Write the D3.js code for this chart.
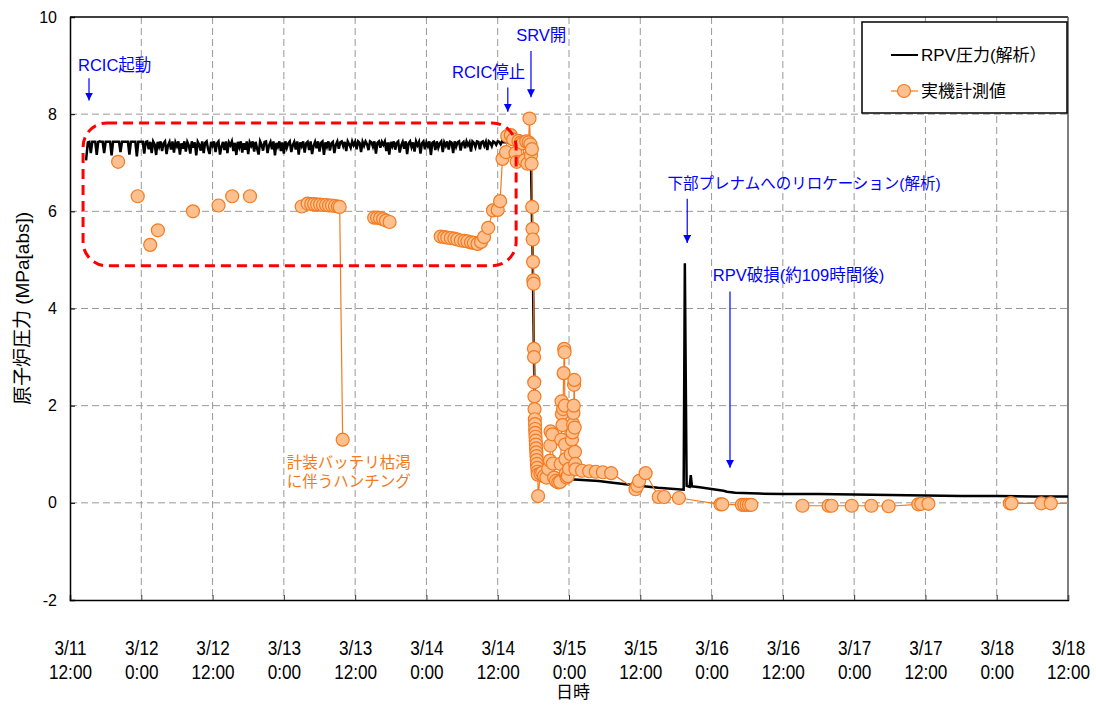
<!DOCTYPE html>
<html>
<head>
<meta charset="utf-8">
<script src="https://cdn.jsdelivr.net/npm/d3@7"></script>
<style>
body { margin: 0; background: #fff; }
svg { font-family: "Liberation Sans", Arial, "Noto Sans CJK JP", sans-serif; }
</style>
</head>
<body>
<svg id="chart" width="1096" height="707"></svg>
<script>
// time axis = hours since 3/11 12:00
var tickHour  = [0, 12, 24, 36, 48, 60, 72, 84, 96, 108, 120, 132, 144, 156, 168];
var tickDay   = ["3/11","3/12","3/12","3/13","3/13","3/14","3/14","3/15","3/15","3/16","3/16","3/17","3/17","3/18","3/18"];
var tickClock = ["12:00","0:00","12:00","0:00","12:00","0:00","12:00","0:00","12:00","0:00","12:00","0:00","12:00","0:00","12:00"];
var yTicks    = [-2, 0, 2, 4, 6, 8, 10];

// RPV pressure (analysis)
var calcHour = [2.7,
  3,3.25,3.5,3.75,4,4.25,4.5,4.75,5,5.25,5.5,5.75,6,6.25,6.5,6.75,7,7.25,7.5,7.75,
  8,8.25,8.5,8.75,9,9.25,9.5,9.75,10,10.25,10.5,10.75,11,11.25,11.5,11.75,12,12.25,12.5,12.75,
  13,13.25,13.5,13.75,14,14.25,14.5,14.75,15,15.25,15.5,15.75,16,16.25,16.5,16.75,17,17.25,17.5,17.75,
  18,18.25,18.5,18.75,19,19.25,19.5,19.75,20,20.25,20.5,20.75,21,21.25,21.5,21.75,22,22.25,22.5,22.75,
  23,23.25,23.5,23.75,24,24.25,24.5,24.75,25,25.25,25.5,25.75,26,26.25,26.5,26.75,27,27.25,27.5,27.75,
  28,28.25,28.5,28.75,29,29.25,29.5,29.75,30,30.25,30.5,30.75,31,31.25,31.5,31.75,32,32.25,32.5,32.75,
  33,33.25,33.5,33.75,34,34.25,34.5,34.75,35,35.25,35.5,35.75,36,36.25,36.5,36.75,37,37.25,37.5,37.75,
  38,38.25,38.5,38.75,39,39.25,39.5,39.75,40,40.25,40.5,40.75,41,41.25,41.5,41.75,42,42.25,42.5,42.75,
  43,43.25,43.5,43.75,44,44.25,44.5,44.75,45,45.25,45.5,45.75,46,46.25,46.5,46.75,47,47.25,47.5,47.75,
  48,48.25,48.5,48.75,49,49.25,49.5,49.75,50,50.25,50.5,50.75,51,51.25,51.5,51.75,52,52.25,52.5,52.75,
  53,53.25,53.5,53.75,54,54.25,54.5,54.75,55,55.25,55.5,55.75,56,56.25,56.5,56.75,57,57.25,57.5,57.75,
  58,58.25,58.5,58.75,59,59.25,59.5,59.75,60,60.25,60.5,60.75,61,61.25,61.5,61.75,62,62.25,62.5,62.75,
  63,63.25,63.5,63.75,64,64.25,64.5,64.75,65,65.25,65.5,65.75,66,66.25,66.5,66.75,67,67.25,67.5,67.75,
  68,68.25,68.5,68.75,69,69.25,69.5,69.75,70,70.25,70.5,70.75,71,71.25,71.5,71.75,72,72.25,72.5,72.75,
  73,73.5,74.5,75.5,76.5,77.2,77.6,77.9,78.1,78.3,78.6,79,80,83.5,89,91,95,99,103.3,
  103.5,103.8,104.3,104.5,104.7,106,110,110.6,112,116,120,126,132,138,144,150,156,162,168];
var calcP = [7.05,
  7.42,7.43,7.20,7.43,7.43,7.43,7.16,7.43,7.44,7.43,7.43,7.20,7.43,7.43,7.43,7.43,7.15,7.43,7.43,7.43,
  7.43,7.43,7.22,7.43,7.43,7.43,7.43,7.43,7.17,7.43,7.43,7.43,7.43,7.13,7.43,7.43,7.43,7.43,7.19,7.43,
  7.44,7.28,7.43,7.20,7.44,7.38,7.16,7.43,7.33,7.44,7.24,7.40,7.44,7.18,7.36,7.43,7.27,7.44,7.21,7.42,
  7.34,7.44,7.17,7.40,7.29,7.44,7.23,7.43,7.36,7.19,7.44,7.31,7.42,7.15,7.43,7.37,7.25,7.44,7.20,7.41,
  7.44,7.28,7.18,7.43,7.35,7.44,7.22,7.40,7.44,7.17,7.33,7.43,7.26,7.44,7.20,7.42,7.36,7.44,7.24,7.41,
  7.16,7.43,7.32,7.44,7.21,7.40,7.27,7.44,7.18,7.42,7.35,7.44,7.23,7.43,7.29,7.17,7.44,7.37,7.25,7.43,
  7.44,7.20,7.36,7.43,7.28,7.44,7.15,7.41,7.33,7.44,7.24,7.42,7.19,7.44,7.31,7.40,7.44,7.22,7.36,7.43,
  7.27,7.44,7.17,7.42,7.34,7.44,7.21,7.40,7.43,7.26,7.44,7.18,7.35,7.43,7.30,7.44,7.23,7.41,7.44,7.16,
  7.42,7.33,7.44,7.25,7.40,7.43,7.20,7.37,7.44,7.29,7.42,7.44,7.34,7.43,7.24,7.44,7.38,7.31,7.44,7.36,
  7.43,7.28,7.44,7.41,7.22,7.43,7.35,7.44,7.38,7.26,7.44,7.42,7.33,7.44,7.19,7.41,7.44,7.31,7.43,7.37,
  7.44,7.24,7.42,7.17,7.43,7.34,7.44,7.27,7.41,7.44,7.21,7.36,7.43,7.29,7.44,7.18,7.40,7.44,7.32,7.42,
  7.23,7.44,7.36,7.43,7.19,7.40,7.44,7.28,7.42,7.34,7.44,7.16,7.41,7.43,7.26,7.44,7.31,7.40,7.44,7.22,
  7.42,7.35,7.44,7.27,7.43,7.41,7.20,7.44,7.33,7.42,7.44,7.25,7.40,7.43,7.30,7.44,7.36,7.42,7.23,7.44,
  7.41,7.32,7.44,7.43,7.28,7.42,7.44,7.35,7.43,7.26,7.44,7.41,7.34,7.44,7.42,7.37,7.44,7.43,7.38,7.44,
  7.42,7.42,7.40,7.41,7.40,7.38,7.00,5.00,3.00,1.50,0.90,0.62,0.53,0.49,0.45,0.42,0.36,0.31,0.27,
  4.93,0.35,0.33,0.57,0.34,0.32,0.25,0.23,0.21,0.19,0.18,0.18,0.17,0.16,0.15,0.14,0.14,0.13,0.13];

// measured values (null = gap in the line)
var measHour = [8.1,null,11.4,null,13.5,null,14.8,null,20.7,null,25.0,null,27.3,null,30.3,null,
  39.0,40.0,40.6,41.1,41.6,42.1,42.6,43.1,43.6,44.1,44.6,45.1,45.4,45.9,null,
  51.2,51.7,52.2,52.7,53.2,53.8,null,
  62.4,63.0,63.5,64.1,64.7,65.2,65.8,66.4,66.9,67.5,68.0,68.6,69.2,69.7,70.4,71.2,72.0,72.4,72.8,
  73.4,73.6,74.2,74.6,75.0,75.2,75.5,75.9,76.2,76.5,76.8,77.0,77.2,77.35,77.5,77.6,77.7,77.75,
  77.8,77.85,77.9,77.95,78.0,78.05,78.1,78.12,78.15,78.18,78.2,78.25,78.28,78.3,78.33,78.36,78.4,
  78.43,78.46,78.5,78.53,78.56,78.6,78.65,78.7,78.75,78.8,79.2,79.5,79.8,80.2,80.5,80.8,80.85,80.9,
  81.2,81.3,81.5,81.8,82.2,82.5,82.6,82.7,82.75,82.8,82.9,83.0,83.1,83.2,83.25,83.3,83.35,83.4,83.45,
  83.6,83.8,84.0,84.3,84.5,84.6,84.7,84.75,84.8,84.85,84.9,84.95,85.0,85.05,85.1,86.2,87.4,88.5,89.7,
  91.1,95.2,95.5,95.8,96.9,99.1,100.0,102.5,109.5,109.8,113.1,113.5,113.9,114.3,114.7,null,
  123.3,127.7,128.2,131.6,134.9,137.8,142.8,143.3,144.5,null,
  158.2,158.5,163.5,165.1,170];
var measP = [7.02,null,6.31,null,5.31,null,5.61,null,6.00,null,6.12,null,6.31,null,6.31,null,
  6.10,6.16,6.15,6.15,6.14,6.14,6.13,6.13,6.12,6.12,6.11,6.10,6.09,1.30,null,
  5.87,5.87,5.86,5.84,5.81,5.78,null,
  5.48,5.47,5.46,5.45,5.44,5.42,5.40,5.39,5.38,5.36,5.35,5.33,5.37,5.47,5.66,6.02,6.03,6.21,7.08,
  7.22,7.55,7.57,7.48,7.20,7.02,7.45,7.42,7.40,7.05,7.44,6.98,7.42,7.91,7.38,7.15,6.98,7.28,
  6.09,5.64,5.42,4.96,4.58,4.51,3.17,3.00,2.48,2.19,1.93,1.72,1.62,1.52,1.44,1.36,1.28,
  1.20,1.12,1.04,0.96,0.88,0.80,0.72,0.64,0.58,0.14,0.60,0.62,0.55,0.52,0.70,0.87,1.18,1.47,
  1.41,0.81,0.52,0.45,0.42,0.43,0.80,1.30,2.09,1.83,1.60,1.93,2.67,3.17,3.10,2.00,1.20,0.90,0.60,
  0.52,0.55,0.70,1.00,1.30,1.45,1.62,1.85,2.00,2.43,2.53,1.55,1.05,0.80,0.69,0.66,0.65,0.64,0.63,
  0.61,0.28,0.35,0.45,0.61,0.12,0.12,0.10,-0.03,-0.03,-0.04,-0.04,-0.04,-0.04,-0.04,null,
  -0.06,-0.06,-0.06,-0.06,-0.06,-0.07,-0.03,-0.02,-0.02,null,
  -0.01,-0.01,-0.01,-0.01,-0.01];

// blue event labels
var eventText    = ["RCIC起動", "RCIC停止", "SRV開", "下部プレナムへのリロケーション(解析)", "RPV破損(約109時間後)"];
var eventTextH   = [1.35, 64.3, 75.1, 100.6, 108.2];
var eventTextP   = [8.88, 8.74, 9.51, 6.46, 4.56];
var eventArrowH  = [3.2, 73.7, 77.6, 103.9, 111.1];
var eventArrowP0 = [8.74, 8.55, 9.30, 6.26, 4.35];
var eventArrowP1 = [8.28, 8.05, 8.35, 5.35, 0.72];

var noteText = ["計装バッテリ枯渇", "に伴うハンチング"];
var notePos  = [[36.5, 0.72], [36.5, 0.33]];

var svg = d3.select("#chart"),
    margin = { top: 17, right: 28, bottom: 107, left: 70 },
    width = +svg.attr("width") - margin.left - margin.right,
    height = +svg.attr("height") - margin.top - margin.bottom;

var x = d3.scaleLinear().domain([0, 168]).range([margin.left, margin.left + width]);
var y = d3.scaleLinear().domain([-2, 10]).range([margin.top + height, margin.top]);

var orange = "#f47a20", orangeFill = "#fdc08e";

svg.append("defs").append("clipPath").attr("id", "plotClip")
    .append("rect").attr("x", margin.left).attr("y", margin.top).attr("width", width).attr("height", height);

svg.select("defs").append("marker")
    .attr("id", "arrowBlue")
    .attr("markerUnits", "userSpaceOnUse")
    .attr("markerWidth", 8).attr("markerHeight", 9)
    .attr("refX", 8).attr("refY", 4)
    .attr("orient", "auto")
    .append("path").attr("d", "M0,0L8,4L0,8Z").attr("fill", "#0000ff");

// grid
var grid = svg.append("g").attr("stroke", "#999").attr("stroke-dasharray", "7,4").attr("stroke-width", 1);
grid.selectAll("line.v").data(tickHour.slice(1, -1)).enter().append("line")
    .attr("x1", function (d) { return x(d); }).attr("x2", function (d) { return x(d); })
    .attr("y1", margin.top).attr("y2", margin.top + height);
grid.selectAll("line.h").data(yTicks.slice(1, -1)).enter().append("line")
    .attr("x1", margin.left).attr("x2", margin.left + width)
    .attr("y1", function (d) { return y(d); }).attr("y2", function (d) { return y(d); });

// axes
var xAxis = svg.append("g").attr("class", "Xaxis")
    .attr("transform", "translate(0," + (margin.top + height) + ")")
    .call(d3.axisBottom(x).tickValues(tickHour).tickSize(-5).tickFormat(""));
xAxis.select(".domain").attr("stroke", "#000").attr("stroke-width", 1.5);
xAxis.selectAll(".tick line").attr("stroke", "#333");
xAxis.selectAll(".tick").each(function (d, i) {
    // condensed look of the original tick font
    var t = d3.select(this).append("g").attr("transform", "scale(0.86,1)").append("text")
        .attr("fill", "#000")
        .attr("text-anchor", "middle")
        .attr("font-size", 20);
    t.append("tspan").attr("x", 0).attr("y", 55).text(tickDay[i]);
    t.append("tspan").attr("x", 0).attr("y", 79).text(tickClock[i]);
});

var yAxis = svg.append("g").attr("class", "Yaxis")
    .attr("transform", "translate(" + margin.left + ",0)")
    .call(d3.axisLeft(y).tickValues(yTicks).tickSize(-5).tickPadding(13)
        .tickFormat(function (d) { return String(d); }));
yAxis.select(".domain").attr("stroke", "#000").attr("stroke-width", 1.5);
yAxis.selectAll(".tick text").attr("font-size", 16).attr("fill", "#000");

// top and right frame
svg.append("line").attr("x1", margin.left).attr("x2", margin.left + width)
    .attr("y1", margin.top).attr("y2", margin.top).attr("stroke", "#000").attr("stroke-width", 1.5);
svg.append("line").attr("x1", margin.left + width).attr("x2", margin.left + width)
    .attr("y1", margin.top).attr("y2", margin.top + height).attr("stroke", "#555").attr("stroke-width", 1.5);

// series
var plot = svg.append("g").attr("clip-path", "url(#plotClip)");

var calc = calcHour.map(function (h, i) { return { h: h, p: calcP[i] }; });
var meas = measHour.map(function (h, i) { return { h: h, p: measP[i] }; });

var line = d3.line()
    .defined(function (d) { return d.p != null; })
    .x(function (d) { return x(d.h); })
    .y(function (d) { return y(d.p); });

plot.append("path").datum(calc)
    .attr("d", line).attr("fill", "none").attr("stroke", "#000").attr("stroke-width", 2.5);

plot.append("path").datum(meas)
    .attr("d", line).attr("fill", "none").attr("stroke", orange).attr("stroke-width", 1.2);

plot.selectAll("circle.meas").data(meas.filter(function (d) { return d.p != null; }))
    .enter().append("circle")
    .attr("cx", function (d) { return x(d.h); })
    .attr("cy", function (d) { return y(d.p); })
    .attr("r", 6.5)
    .attr("fill", orangeFill).attr("stroke", orange).attr("stroke-width", 1.2);

// red dashed box round the RCIC period
svg.append("rect")
    .attr("x", x(2.2)).attr("y", y(7.82))
    .attr("width", x(75.1) - x(2.2)).attr("height", y(4.88) - y(7.82))
    .attr("rx", 24).attr("ry", 24)
    .attr("fill", "none").attr("stroke", "#ff0000").attr("stroke-width", 3).attr("stroke-dasharray", "10,6");

// event arrows + labels
var ev = svg.append("g");
eventText.forEach(function (t, i) {
    ev.append("line")
        .attr("x1", x(eventArrowH[i])).attr("x2", x(eventArrowH[i]))
        .attr("y1", y(eventArrowP0[i])).attr("y2", y(eventArrowP1[i]))
        .attr("stroke", "#0000ff").attr("stroke-width", 1.2)
        .attr("marker-end", "url(#arrowBlue)");
    ev.append("text")
        .attr("x", x(eventTextH[i])).attr("y", y(eventTextP[i]))
        .attr("fill", "#0000ff").attr("font-size", i == 3 ? 15.5 : 16.5)
        .text(t);
});

svg.selectAll("text.note").data(noteText).enter().append("text")
    .attr("x", function (d, i) { return x(notePos[i][0]); })
    .attr("y", function (d, i) { return y(notePos[i][1]); })
    .attr("fill", orange).attr("font-size", 15.5)
    .text(function (d) { return d; });

// axis titles
svg.append("text")
    .attr("transform", "translate(29," + y(4) + ") rotate(-90)")
    .attr("text-anchor", "middle").attr("font-size", 19).attr("fill", "#000")
    .text("原子炉圧力 (MPa[abs])");
svg.append("text")
    .attr("x", 573).attr("y", 698)
    .attr("text-anchor", "middle").attr("font-size", 17).attr("fill", "#000")
    .text("日時");

// legend
var legend = svg.append("g").attr("transform", "translate(862,22)");
legend.append("rect").attr("width", 205).attr("height", 91)
    .attr("fill", "#fff").attr("stroke", "#000").attr("stroke-width", 1.5);
legend.append("line").attr("x1", 29).attr("x2", 56).attr("y1", 33).attr("y2", 33)
    .attr("stroke", "#000").attr("stroke-width", 2);
legend.append("text").attr("x", 59).attr("y", 39).attr("font-size", 17).text("RPV圧力(解析）");
legend.append("line").attr("x1", 29).attr("x2", 56).attr("y1", 69).attr("y2", 69)
    .attr("stroke", orange).attr("stroke-width", 1.2);
legend.append("circle").attr("cx", 42).attr("cy", 69).attr("r", 6.5)
    .attr("fill", orangeFill).attr("stroke", orange).attr("stroke-width", 1.2);
legend.append("text").attr("x", 59).attr("y", 75).attr("font-size", 17).text("実機計測値");
</script>
</body>
</html>
